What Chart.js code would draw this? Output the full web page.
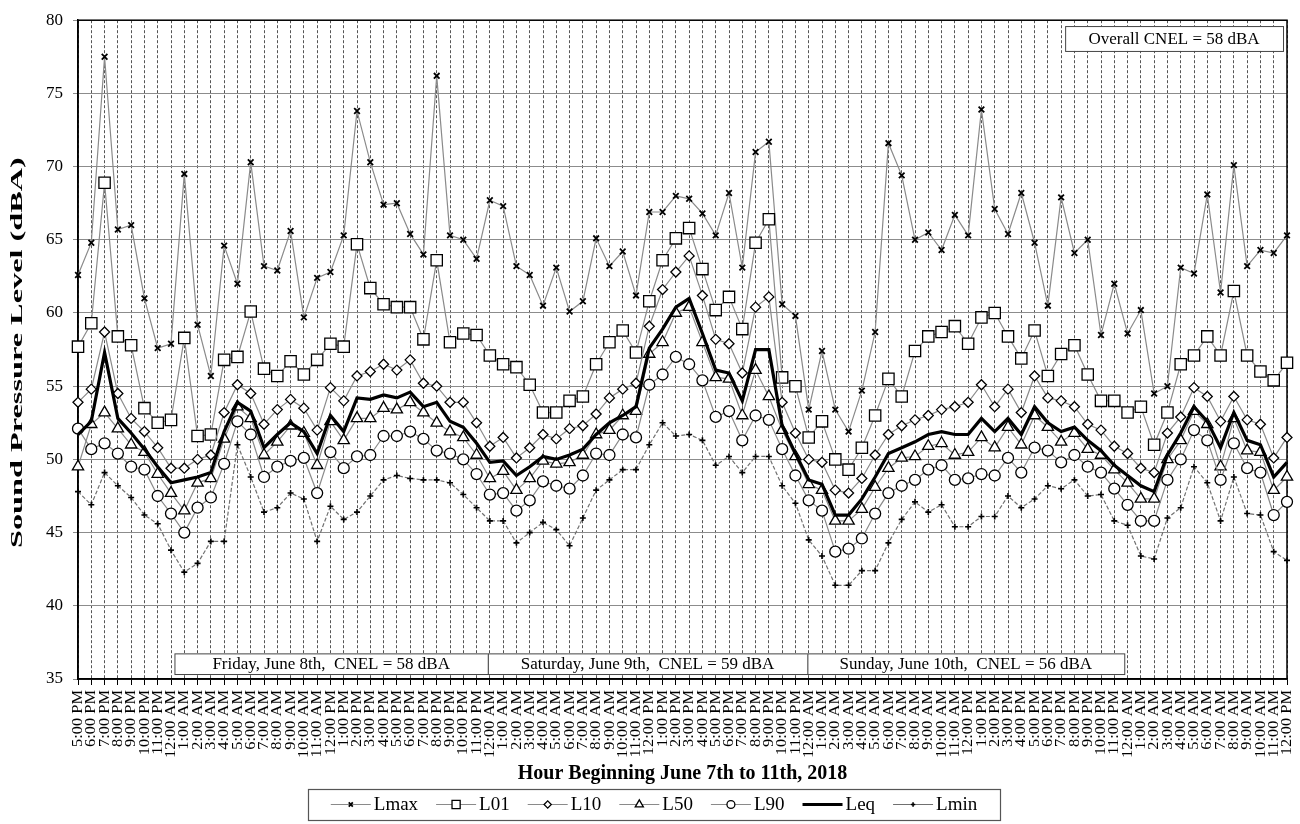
<!DOCTYPE html>
<html>
<head>
<meta charset="utf-8">
<title>Hourly Noise Levels, June 7-11 2018</title>
<script src="https://cdn.jsdelivr.net/npm/chart.js@4.4.1/dist/chart.umd.min.js"></script>
<style>
  html, body { margin: 0; padding: 0; background: #fff; }
  #wrap { width: 1300px; height: 824px; position: relative; }
</style>
</head>
<body>
<div id="wrap"><canvas id="noiseChart"></canvas></div>
<script>
// ---------- data ----------
const hours = [
  "5:00 PM", "6:00 PM", "7:00 PM", "8:00 PM", "9:00 PM", "10:00 PM", "11:00 PM",
  "12:00 AM", "1:00 AM", "2:00 AM", "3:00 AM", "4:00 AM", "5:00 AM", "6:00 AM", "7:00 AM", "8:00 AM", "9:00 AM", "10:00 AM", "11:00 AM",
  "12:00 PM", "1:00 PM", "2:00 PM", "3:00 PM", "4:00 PM", "5:00 PM", "6:00 PM", "7:00 PM", "8:00 PM", "9:00 PM", "10:00 PM", "11:00 PM",
  "12:00 AM", "1:00 AM", "2:00 AM", "3:00 AM", "4:00 AM", "5:00 AM", "6:00 AM", "7:00 AM", "8:00 AM", "9:00 AM", "10:00 AM", "11:00 AM",
  "12:00 PM", "1:00 PM", "2:00 PM", "3:00 PM", "4:00 PM", "5:00 PM", "6:00 PM", "7:00 PM", "8:00 PM", "9:00 PM", "10:00 PM", "11:00 PM",
  "12:00 AM", "1:00 AM", "2:00 AM", "3:00 AM", "4:00 AM", "5:00 AM", "6:00 AM", "7:00 AM", "8:00 AM", "9:00 AM", "10:00 AM", "11:00 AM",
  "12:00 PM", "1:00 PM", "2:00 PM", "3:00 PM", "4:00 PM", "5:00 PM", "6:00 PM", "7:00 PM", "8:00 PM", "9:00 PM", "10:00 PM", "11:00 PM",
  "12:00 AM", "1:00 AM", "2:00 AM", "3:00 AM", "4:00 AM", "5:00 AM", "6:00 AM", "7:00 AM", "8:00 AM", "9:00 AM", "10:00 AM", "11:00 AM",
  "12:00 PM"
];

const lmax = [
  62.6, 64.8, 77.5, 65.7, 66.0, 61.0, 57.6, 57.9, 69.5, 59.2,
  55.7, 64.6, 62.0, 70.3, 63.2, 62.9, 65.6, 59.7, 62.4, 62.8,
  65.3, 73.8, 70.3, 67.4, 67.5, 65.4, 64.0, 76.2, 65.3, 65.0,
  63.7, 67.7, 67.3, 63.2, 62.6, 60.5, 63.1, 60.1, 60.8, 65.1,
  63.2, 64.2, 61.2, 66.9, 66.9, 68.0, 67.8, 66.8, 65.3, 68.2,
  63.1, 71.0, 71.7, 60.6, 59.8, 53.4, 57.4, 53.4, 51.9, 54.7,
  58.7, 71.6, 69.4, 65.0, 65.5, 64.3, 66.7, 65.3, 73.9, 67.1,
  65.4, 68.2, 64.8, 60.5, 67.9, 64.1, 65.0, 58.5, 62.0, 58.6,
  60.2, 54.5, 55.0, 63.1, 62.7, 68.1, 61.4, 70.1, 63.2, 64.3,
  64.1, 65.3
];
const l01 = [
  57.7, 59.3, 68.9, 58.4, 57.8, 53.5, 52.5, 52.7, 58.3, 51.6,
  51.7, 56.8, 57.0, 60.1, 56.2, 55.7, 56.7, 55.8, 56.8, 57.9,
  57.7, 64.7, 61.7, 60.6, 60.4, 60.4, 58.2, 63.6, 58.0, 58.6,
  58.5, 57.1, 56.5, 56.3, 55.1, 53.2, 53.2, 54.0, 54.3, 56.5,
  58.0, 58.8, 57.3, 60.8, 63.6, 65.1, 65.8, 63.0, 60.2, 61.1,
  58.9, 64.8, 66.4, 55.6, 55.0, 51.5, 52.6, 50.0, 49.3, 50.8,
  53.0, 55.5, 54.3, 57.4, 58.4, 58.7, 59.1, 57.9, 59.7, 60.0,
  58.4, 56.9, 58.8, 55.7, 57.2, 57.8, 55.8, 54.0, 54.0, 53.2,
  53.6, 51.0, 53.2, 56.5, 57.1, 58.4, 57.1, 61.5, 57.1, 56.0,
  55.4, 56.6
];
const l10 = [
  53.9, 54.8, 58.7, 54.5, 52.8, 51.9, 50.8, 49.4, 49.4, 50.0,
  50.3, 53.2, 55.1, 54.5, 52.4, 53.4, 54.1, 53.5, 52.0, 54.9,
  54.0, 55.7, 56.0, 56.5, 56.1, 56.8, 55.2, 55.0, 53.9, 53.9,
  52.5, 50.9, 51.5, 50.1, 50.8, 51.7, 51.4, 52.1, 52.3, 53.1,
  54.2, 54.8, 55.2, 59.1, 61.6, 62.8, 63.9, 61.2, 58.2, 57.9,
  55.9, 60.4, 61.1, 53.9, 51.8, 50.0, 49.8, 47.9, 47.7, 48.7,
  50.3, 51.7, 52.3, 52.7, 53.0, 53.4, 53.6, 53.9, 55.1, 53.6,
  54.8, 53.2, 55.7, 54.2, 54.0, 53.6, 52.4, 52.0, 50.9, 50.4,
  49.4, 49.1, 51.8, 52.9, 54.9, 54.3, 52.6, 54.3, 52.7, 52.4,
  50.1, 51.5
];
const l50 = [
  49.5, 52.4, 53.2, 52.1, 51.0, 50.5, 49.0, 47.7, 46.5, 48.4,
  48.7, 51.4, 53.6, 52.8, 50.3, 51.2, 52.3, 51.8, 49.6, 52.6,
  51.3, 52.8, 52.8, 53.5, 53.4, 53.9, 53.2, 52.5, 51.9, 51.5,
  50.3, 48.7, 49.2, 47.9, 48.7, 49.9, 49.7, 49.8, 50.3, 51.7,
  52.0, 53.0, 53.3, 57.2, 58.0, 60.0, 60.4, 58.0, 55.6, 55.5,
  53.0, 56.1, 54.3, 52.0, 50.2, 48.3, 47.9, 45.8, 45.8, 46.6,
  48.1, 49.4, 50.1, 50.2, 50.9, 51.1, 50.3, 50.5, 51.5, 50.8,
  52.2, 51.0, 53.0, 52.2, 51.2, 51.8, 50.7, 50.3, 49.3, 48.4,
  47.3, 47.3, 50.0, 51.3, 53.3, 52.4, 49.5, 52.8, 50.6, 50.5,
  47.9, 48.8
];
const l90 = [
  52.1, 50.7, 51.1, 50.4, 49.5, 49.3, 47.5, 46.3, 45.0, 46.7,
  47.4, 49.7, 52.6, 51.7, 48.8, 49.5, 49.9, 50.1, 47.7, 50.5,
  49.4, 50.2, 50.3, 51.6, 51.6, 51.9, 51.4, 50.6, 50.4, 50.0,
  49.0, 47.6, 47.7, 46.5, 47.2, 48.5, 48.2, 48.0, 48.9, 50.4,
  50.3, 51.7, 51.5, 55.1, 55.8, 57.0, 56.5, 55.4, 52.9, 53.3,
  51.3, 53.0, 52.7, 50.7, 48.9, 47.2, 46.5, 43.7, 43.9, 44.6,
  46.3, 47.7, 48.2, 48.6, 49.3, 49.6, 48.6, 48.7, 49.0, 48.9,
  50.1, 49.1, 50.8, 50.6, 49.8, 50.3, 49.5, 49.1, 48.0, 46.9,
  45.8, 45.8, 48.6, 50.0, 52.0, 51.3, 48.6, 51.1, 49.4, 49.1,
  46.2, 47.1
];
const leq = [
  51.7, 52.6, 57.3, 52.8, 51.8, 50.7, 49.5, 48.4, 48.6, 48.8,
  49.1, 51.9, 53.9, 53.3, 50.8, 51.7, 52.5, 51.9, 50.4, 53.0,
  51.9, 54.2, 54.1, 54.4, 54.2, 54.6, 53.6, 53.9, 52.6, 52.2,
  51.1, 49.8, 49.9, 48.9, 49.5, 50.2, 50.0, 50.3, 50.7, 51.7,
  52.5, 53.0, 53.6, 57.6, 58.9, 60.4, 61.0, 58.6, 56.1, 55.9,
  54.0, 57.5, 57.5, 52.3, 50.4, 48.6, 48.3, 46.2, 46.2, 47.3,
  48.8, 50.4, 50.8, 51.2, 51.7, 51.9, 51.7, 51.7, 52.8, 51.9,
  52.8, 51.7, 53.6, 52.5, 51.9, 52.2, 51.3, 50.6, 49.6, 48.9,
  48.2, 47.8, 50.3, 51.8, 53.6, 52.6, 50.8, 53.2, 51.3, 51.0,
  48.8, 49.8
];
const lmin = [
  47.8, 46.9, 49.1, 48.2, 47.4, 46.2, 45.6, 43.8, 42.3, 42.9,
  44.4, 44.4, 51.0, 48.8, 46.4, 46.7, 47.7, 47.3, 44.4, 46.8,
  45.9, 46.4, 47.5, 48.6, 48.9, 48.7, 48.6, 48.6, 48.4, 47.6,
  46.7, 45.8, 45.8, 44.3, 45.0, 45.7, 45.2, 44.1, 46.0, 47.9,
  48.6, 49.3, 49.3, 51.0, 52.5, 51.6, 51.7, 51.3, 49.6, 50.2,
  49.1, 50.2, 50.2, 48.2, 47.0, 44.5, 43.4, 41.4, 41.4, 42.4,
  42.4, 44.3, 45.9, 47.1, 46.4, 46.9, 45.4, 45.4, 46.1, 46.1,
  47.5, 46.7, 47.3, 48.2, 48.0, 48.6, 47.5, 47.6, 45.8, 45.5,
  43.4, 43.2, 46.0, 46.7, 49.5, 48.4, 45.8, 48.8, 46.3, 46.2,
  43.7, 43.1
];

const yTicks = [35, 40, 45, 50, 55, 60, 65, 70, 75, 80];
const dayNotes = [
  "Friday, June 8th,  CNEL = 58 dBA",
  "Saturday, June 9th,  CNEL = 59 dBA",
  "Sunday, June 10th,  CNEL = 56 dBA"
];
const overallNote = "Overall CNEL = 58 dBA";
const yTitle = "Sound Pressure Level (dBA)";
const xTitle = "Hour Beginning June 7th to 11th, 2018";

// ---------- styling ----------
const SERIF = '"Liberation Serif", "Times New Roman", serif';
Chart.defaults.font.family = SERIF;
Chart.defaults.color = "#000";

const grayLine = "#8a8a8a";

function series(label, data, style) {
  return Object.assign({
    label, data,
    borderColor: grayLine,
    borderWidth: 1.2,
    pointBackgroundColor: "#fff",
    pointBorderColor: "#000",
    pointBorderWidth: 1.3,
    pointHoverRadius: 0,
    tension: 0,
    fill: false
  }, style);
}

// ---------- plugins ----------
// plot frame under the lines
const framePlugin = {
  id: "frame",
  beforeDatasetsDraw(chart) {
    const { ctx, chartArea: a } = chart;
    ctx.save();
    ctx.strokeStyle = "#000";
    ctx.lineWidth = 1.5;
    ctx.strokeRect(a.left, a.top, a.right - a.left, a.bottom - a.top);
    ctx.restore();
  }
};

// hour labels, turned upright and drawn long and narrow like the original
const hourLabelPlugin = {
  id: "hourLabels",
  afterDraw(chart) {
    const { ctx, chartArea: a } = chart;
    const xs = chart.scales.x;
    ctx.save();
    ctx.font = "14px " + SERIF;
    const stretch = 68 / ctx.measureText("12:00 AM").width;
    ctx.fillStyle = "#000";
    ctx.textAlign = "right";
    ctx.textBaseline = "middle";
    chart.data.labels.forEach((lab, i) => {
      ctx.save();
      ctx.translate(xs.getPixelForTick(i) + 0.5, a.bottom + 11);
      ctx.rotate(-Math.PI / 2);
      ctx.scale(stretch, 1);
      ctx.fillText(lab, 0, 0);
      ctx.restore();
    });
    ctx.restore();
  }
};

// text boxes placed in data coordinates
function noteBox(chart, text, x1, x2, y1, y2) {
  const { ctx, scales } = chart;
  const left = scales.x.getPixelForValue(x1);
  const right = scales.x.getPixelForValue(x2);
  const top = scales.y.getPixelForValue(y1);
  const bottom = scales.y.getPixelForValue(y2);
  ctx.save();
  ctx.fillStyle = "#fff";
  ctx.fillRect(left, top, right - left, bottom - top);
  ctx.strokeStyle = "#444";
  ctx.lineWidth = 1;
  ctx.strokeRect(left + 0.5, top + 0.5, right - left, bottom - top);
  ctx.fillStyle = "#000";
  ctx.font = "17px " + SERIF;
  ctx.textAlign = "center";
  ctx.textBaseline = "middle";
  ctx.fillText(text, (left + right) / 2, (top + bottom) / 2 + 1);
  ctx.restore();
}

const notesPlugin = {
  id: "notes",
  afterDatasetsDraw(chart) {
    const edges = [7.26, 30.85, 54.9, 78.75];
    dayNotes.forEach((t, i) => noteBox(chart, t, edges[i], edges[i + 1], 36.75, 35.34));
    noteBox(chart, overallNote, 74.3, 90.7, 79.6, 77.9);
  }
};

// y title, stretched along its length like the original
const yTitlePlugin = {
  id: "yTitle",
  afterDraw(chart) {
    const { ctx, chartArea: a } = chart;
    ctx.save();
    ctx.translate(18, (a.top + a.bottom) / 2 + 3);
    ctx.rotate(-Math.PI / 2);
    ctx.scale(1.9, 1);
    ctx.font = "bold 17px " + SERIF;
    ctx.textAlign = "center";
    ctx.textBaseline = "middle";
    ctx.fillStyle = "#000";
    ctx.fillText(yTitle, 0, 0);
    ctx.restore();
  }
};

// boxed legend with line + marker samples
const legendPlugin = {
  id: "boxLegend",
  afterDraw(chart) {
    const { ctx } = chart;
    const sets = chart.data.datasets;
    ctx.save();
    ctx.font = "19px " + SERIF;
    const seg = 40, gapText = 3, gapItem = 18;
    let total = 0;
    sets.forEach((d, i) => {
      total += seg + gapText + ctx.measureText(d.label).width + (i < sets.length - 1 ? gapItem : 0);
    });
    const boxL = 308, boxR = 1000, boxT = 789, boxB = 820;
    ctx.fillStyle = "#fff";
    ctx.fillRect(boxL, boxT, boxR - boxL, boxB - boxT);
    ctx.strokeStyle = "#555";
    ctx.lineWidth = 1.2;
    ctx.strokeRect(boxL + 0.5, boxT + 0.5, boxR - boxL, boxB - boxT);
    const cy = (boxT + boxB) / 2;
    let x = (boxL + boxR) / 2 - total / 2;
    sets.forEach(d => {
      ctx.save();
      ctx.strokeStyle = d.borderColor;
      ctx.lineWidth = d.borderWidth;
      ctx.beginPath();
      ctx.moveTo(x, cy);
      ctx.lineTo(x + seg, cy);
      ctx.stroke();
      ctx.restore();
      if (d.pointRadius > 0 && Chart.helpers && Chart.helpers.drawPoint) {
        ctx.save();
        ctx.fillStyle = "#fff";
        ctx.strokeStyle = "#000";
        ctx.lineWidth = d.pointBorderWidth;
        Chart.helpers.drawPoint(ctx, {
          pointStyle: d.pointStyle, rotation: 0,
          radius: d.pointRadius * 0.72, borderWidth: d.pointBorderWidth
        }, x + seg / 2, cy);
        ctx.restore();
      }
      x += seg + gapText;
      ctx.fillStyle = "#000";
      ctx.textAlign = "left";
      ctx.textBaseline = "middle";
      ctx.fillText(d.label, x, cy + 1);
      x += ctx.measureText(d.label).width + gapItem;
    });
    ctx.restore();
  }
};

// ---------- chart ----------
new Chart(document.getElementById("noiseChart"), {
  type: "line",
  data: {
    labels: hours,
    datasets: [
      series("Lmax", lmax, { pointStyle: "crossRot", pointRadius: 4, pointBorderWidth: 1.8, order: 7 }),
      series("L01", l01, { pointStyle: "rect", pointRadius: 8, order: 6 }),
      series("L10", l10, { pointStyle: "rectRot", pointRadius: 5, order: 5 }),
      series("L50", l50, { pointStyle: "triangle", pointRadius: 6.5, order: 4 }),
      series("L90", l90, { pointStyle: "circle", pointRadius: 5.5, order: 3 }),
      series("Leq", leq, { borderColor: "#000", borderWidth: 3.2, pointRadius: 0, order: 2 }),
      series("Lmin", lmin, { borderColor: "#707070", pointStyle: "cross", pointRadius: 3, pointBorderWidth: 1.6, borderDash: [4, 2], order: 1 })
    ]
  },
  options: {
    responsive: true,
    maintainAspectRatio: false,
    animation: false,
    events: [],
    layout: { padding: { top: 9, right: 13, bottom: 38, left: 0 } },
    plugins: {
      legend: { display: false },
      tooltip: { enabled: false }
    },
    scales: {
      x: {
        type: "category",
        grid: { color: "#555", lineWidth: 1, tickColor: "#000", tickLength: 6 },
        border: { display: true, color: "#000", width: 1.5, dash: [3, 2] },
        ticks: { display: false, autoSkip: false },
        title: {
          display: true, text: xTitle, color: "#000",
          font: { size: 20, weight: "bold" }, padding: { top: 0, bottom: 0 }
        },
        afterFit: s => { s.height = 107; }
      },
      y: {
        min: 35,
        max: 80,
        afterBuildTicks: s => { s.ticks = yTicks.map(v => ({ value: v })); },
        ticks: { padding: 10, font: { size: 17 }, color: "#000" },
        grid: { color: "#8c8c8c", lineWidth: 1, tickLength: 5, tickColor: "#8c8c8c" },
        border: { display: true, color: "#000", width: 1.5 },
        afterFit: s => { s.width = 78; }
      }
    }
  },
  plugins: [framePlugin, notesPlugin, hourLabelPlugin, yTitlePlugin, legendPlugin]
});
</script>
</body>
</html>
